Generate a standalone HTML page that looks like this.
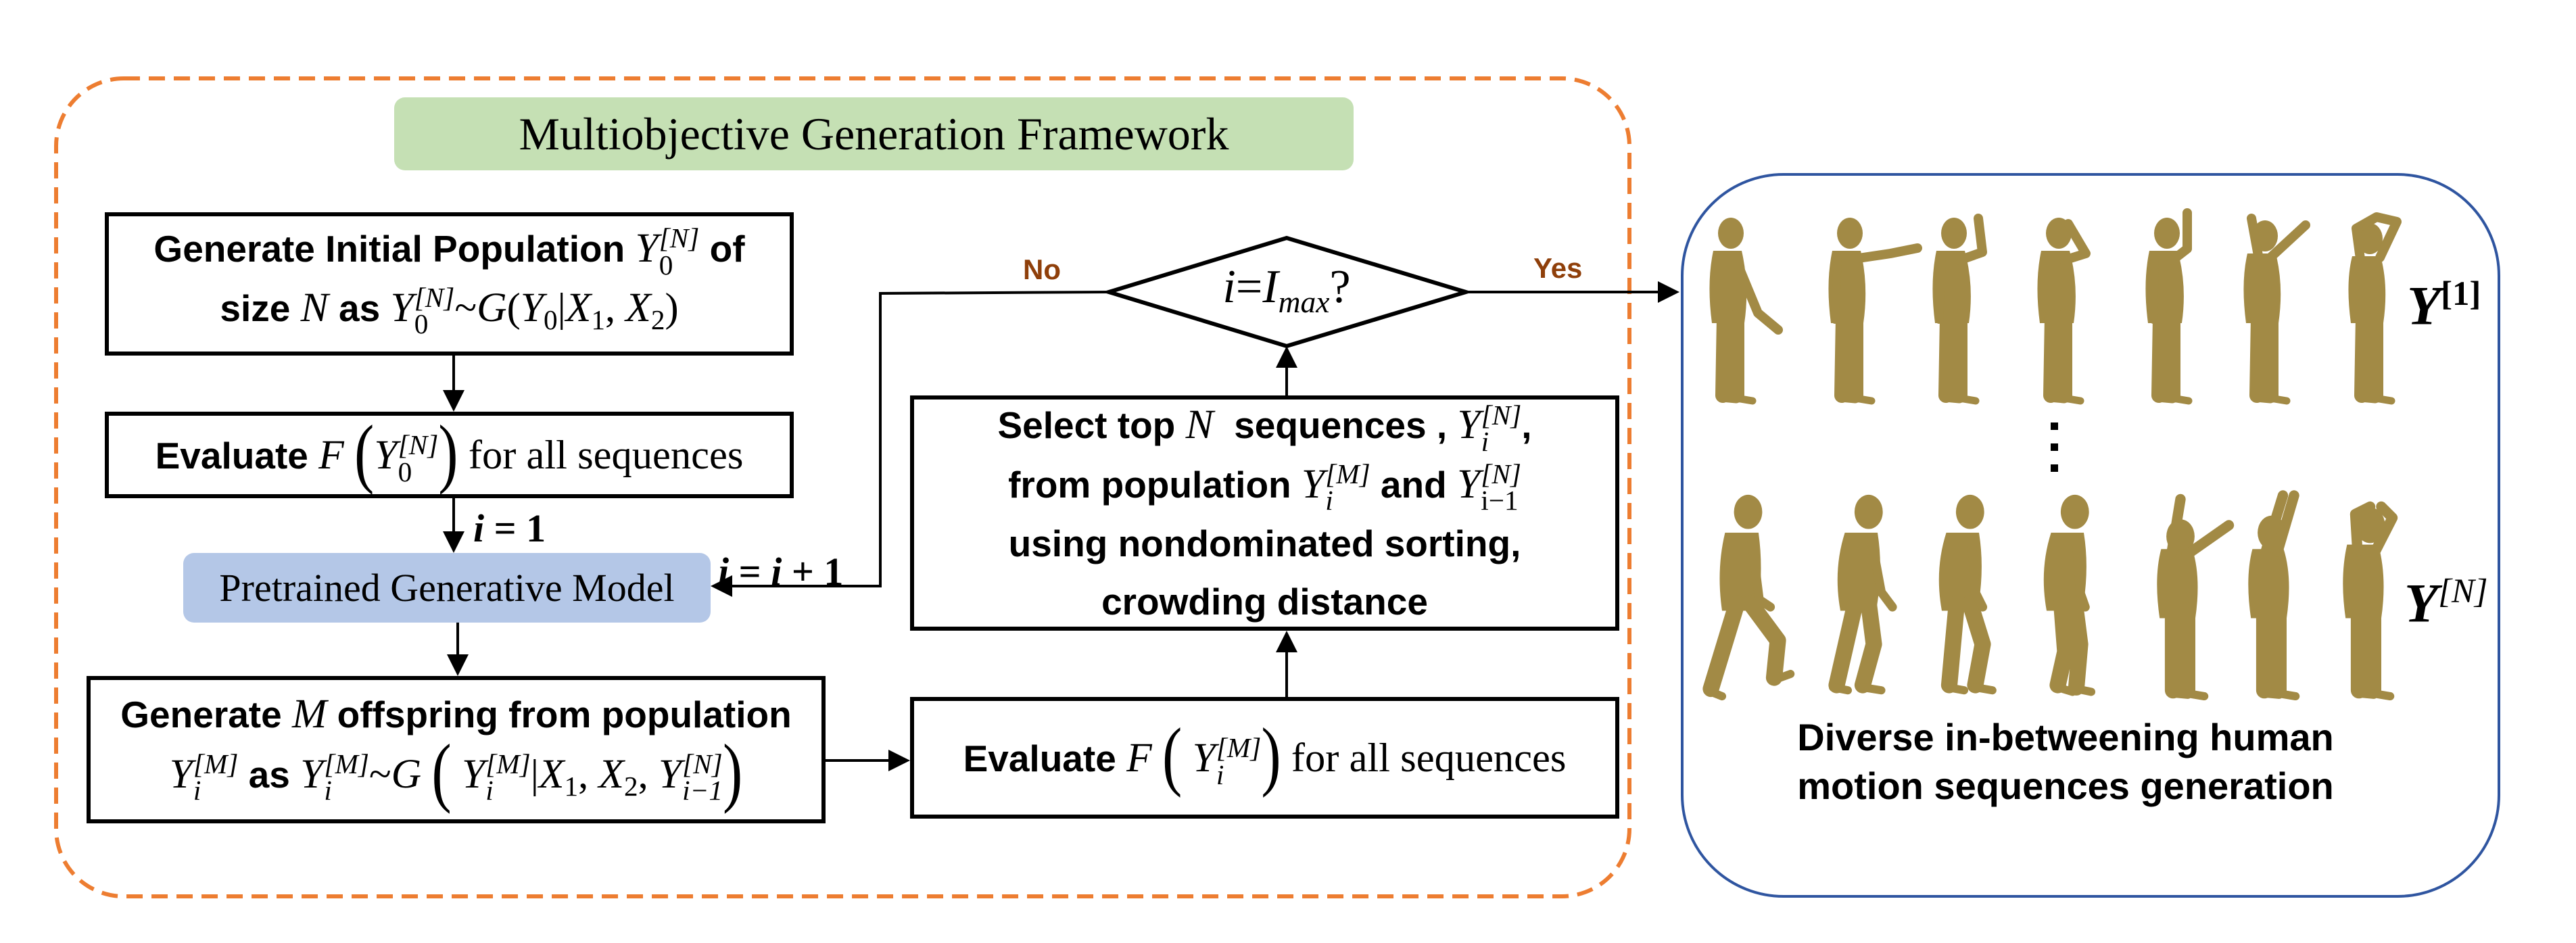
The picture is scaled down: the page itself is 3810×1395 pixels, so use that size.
<!DOCTYPE html>
<html><head><meta charset="utf-8">
<style>
html,body{margin:0;padding:0;background:#fff}
body{width:3810px;height:1395px;position:relative;overflow:hidden;font-family:"Liberation Sans",Arial,sans-serif}
.a{position:absolute}
.box{position:absolute;border:6px solid #000;box-sizing:border-box;display:flex;flex-direction:column;align-items:center;justify-content:center;background:#fff}
.t{font-weight:bold;font-size:55px;color:#000;white-space:nowrap;line-height:86px}
.m{font-family:"Liberation Serif",serif;font-style:italic;font-weight:normal;font-size:1.12em}
.mb{font-family:"Liberation Serif",serif;font-style:italic;font-weight:bold}
.r{font-family:"Liberation Serif",serif;font-weight:normal;font-size:1.1em}
.ss{display:inline-flex;flex-direction:column;vertical-align:middle;font-size:0.75em;line-height:0.95;margin-left:1px;text-align:left;font-family:"Liberation Serif",serif;font-style:italic;font-weight:normal}
.sb{font-size:.75em}
.bp{font-family:"Liberation Serif",serif;font-weight:normal;font-size:1.6em;display:inline-block;transform:scaleY(1.3);vertical-align:-6px}
</style></head><body>
<svg class="a" style="left:0;top:0" width="3810" height="1395">
<defs><marker id="ar" markerWidth="8" markerHeight="8" refX="7" refY="4" orient="auto" markerUnits="strokeWidth"><path d="M0,0 L8,4 L0,8 Z" fill="#000"/></marker></defs>
<rect x="83" y="116" width="2327" height="1210" rx="100" fill="none" stroke="#ed7d31" stroke-width="6" stroke-dasharray="24 13"/>
<rect x="583" y="144" width="1419" height="108" rx="16" fill="#c5e0b4"/>
<rect x="271" y="818" width="780" height="103" rx="16" fill="#b4c7e7"/>
<rect x="2488" y="258" width="1208" height="1068" rx="150" fill="none" stroke="#2f55a0" stroke-width="4"/>
<polygon points="1640,432 1903,352 2168,432 1903,512" fill="#fff" stroke="#000" stroke-width="6"/>
<g stroke="#000" stroke-width="4" fill="none">
<line x1="671" y1="526" x2="671" y2="605" marker-end="url(#ar)"/>
<line x1="671" y1="737" x2="671" y2="814" marker-end="url(#ar)"/>
<line x1="677" y1="921" x2="677" y2="996" marker-end="url(#ar)"/>
<line x1="1221" y1="1125" x2="1342" y2="1125" marker-end="url(#ar)"/>
<line x1="1903" y1="1031" x2="1903" y2="937" marker-end="url(#ar)"/>
<line x1="1903" y1="585" x2="1903" y2="516" marker-end="url(#ar)"/>
<polyline points="1640,432 1302,434 1302,867 1055,867" marker-end="url(#ar)"/>
<line x1="2168" y1="432" x2="2480" y2="432" marker-end="url(#ar)"/>
</g>
<g fill="#a28a45" stroke="#a28a45" stroke-linecap="round" stroke-linejoin="round">
<g transform="translate(2560,323)"><ellipse cx="0" cy="22" rx="19" ry="23" stroke="none"/><path d="M-26,48 Q-36,95 -28,155 L20,155 Q28,100 16,48 Z" stroke="none"/><path d="M-10,145 L-12,262 M9,145 L9,262" stroke-width="22" fill="none"/><path d="M-14,266 L8,268 M8,266 L32,270" stroke-width="11" fill="none"/><path d="M6,58 L40,140 L70,165" stroke-width="14" fill="none"/></g>
<g transform="translate(2736,323)"><ellipse cx="0" cy="22" rx="19" ry="23" stroke="none"/><path d="M-26,48 Q-36,95 -28,155 L20,155 Q28,100 16,48 Z" stroke="none"/><path d="M-10,145 L-12,262 M9,145 L9,262" stroke-width="22" fill="none"/><path d="M-14,266 L8,268 M8,266 L32,270" stroke-width="11" fill="none"/><path d="M6,60 L60,52 L100,44" stroke-width="14" fill="none"/><path d="M-18,60 L-22,150" stroke-width="12" fill="none"/></g>
<g transform="translate(2890,323)"><ellipse cx="0" cy="22" rx="19" ry="23" stroke="none"/><path d="M-26,48 Q-36,95 -28,155 L22,155 Q30,100 16,48 Z" stroke="none"/><path d="M-10,145 L-12,262 M9,145 L9,262" stroke-width="22" fill="none"/><path d="M-14,266 L8,268 M8,266 L32,270" stroke-width="11" fill="none"/><path d="M8,62 L42,50 L36,0" stroke-width="14" fill="none"/><path d="M-18,60 L-22,150" stroke-width="12" fill="none"/></g>
<g transform="translate(3045,323)"><ellipse cx="0" cy="22" rx="19" ry="23" stroke="none"/><path d="M-26,48 Q-36,95 -28,155 L22,155 Q30,100 16,48 Z" stroke="none"/><path d="M-10,145 L-12,262 M9,145 L9,262" stroke-width="22" fill="none"/><path d="M-14,266 L8,268 M8,266 L32,270" stroke-width="11" fill="none"/><path d="M8,62 L40,52 L14,8" stroke-width="14" fill="none"/></g>
<g transform="translate(3205,323)"><ellipse cx="0" cy="22" rx="19" ry="23" stroke="none"/><path d="M-26,48 Q-36,95 -28,155 L22,155 Q30,100 16,48 Z" stroke="none"/><path d="M-10,145 L-12,262 M9,145 L9,262" stroke-width="22" fill="none"/><path d="M-14,266 L8,268 M8,266 L32,270" stroke-width="11" fill="none"/><path d="M8,62 L30,45 L30,-8" stroke-width="14" fill="none"/><path d="M-18,60 L-20,150" stroke-width="12" fill="none"/></g>
<g transform="translate(3350,323)"><ellipse cx="0" cy="26" rx="19" ry="23" stroke="none"/><path d="M-26,52 Q-36,95 -28,155 L20,155 Q28,100 16,52 Z" stroke="none"/><path d="M-10,145 L-12,262 M9,145 L9,262" stroke-width="22" fill="none"/><path d="M-14,266 L8,268 M8,266 L32,270" stroke-width="11" fill="none"/><path d="M-10,55 L-20,0 M8,58 L60,10" stroke-width="14" fill="none"/></g>
<g transform="translate(3505,323)"><ellipse cx="0" cy="30" rx="19" ry="23" stroke="none"/><path d="M-26,56 Q-36,95 -28,155 L20,155 Q28,100 16,56 Z" stroke="none"/><path d="M-10,145 L-12,262 M9,145 L9,262" stroke-width="22" fill="none"/><path d="M-14,266 L8,268 M8,266 L32,270" stroke-width="11" fill="none"/><path d="M-14,60 L-20,15 L10,-2 L40,5 L15,58" stroke-width="14" fill="none"/></g>
<g transform="translate(2580,733) scale(1.1)"><ellipse cx="5" cy="22" rx="19" ry="23" stroke="none"/><path d="M-26,50 Q-38,100 -30,155 L18,155 Q26,100 19,50 Z" stroke="none"/><path d="M-10,145 L-45,260 M8,145 L45,195 L40,245" stroke-width="22" fill="none"/><path d="M-50,262 L-30,270 M40,248 L62,240" stroke-width="11" fill="none"/><path d="M10,60 L20,140 L35,150" stroke-width="12" fill="none"/></g>
<g transform="translate(2755,733) scale(1.1)"><ellipse cx="8" cy="22" rx="19" ry="23" stroke="none"/><path d="M-24,50 Q-40,100 -30,155 L18,155 Q28,100 20,50 Z" stroke="none"/><path d="M-10,145 L-35,255 M8,145 L15,200 L0,255" stroke-width="22" fill="none"/><path d="M-40,258 L-20,262 M0,258 L25,262" stroke-width="11" fill="none"/><path d="M12,60 L25,130 L40,150" stroke-width="12" fill="none"/></g>
<g transform="translate(2905,733) scale(1.1)"><ellipse cx="8" cy="22" rx="19" ry="23" stroke="none"/><path d="M-24,50 Q-40,100 -30,155 L18,155 Q28,100 20,50 Z" stroke="none"/><path d="M-10,145 L-20,255 M8,145 L25,200 L15,255" stroke-width="22" fill="none"/><path d="M-22,258 L0,262 M15,258 L38,262" stroke-width="11" fill="none"/><path d="M10,60 L15,130 L25,150" stroke-width="12" fill="none"/></g>
<g transform="translate(3060,733) scale(1.1)"><ellipse cx="8" cy="22" rx="19" ry="23" stroke="none"/><path d="M-24,50 Q-40,100 -30,155 L18,155 Q28,100 20,50 Z" stroke="none"/><path d="M-10,145 L-5,210 L-15,255 M8,145 L15,200 L10,258" stroke-width="22" fill="none"/><path d="M-15,258 L5,264 M10,260 L30,264" stroke-width="11" fill="none"/><path d="M10,60 L15,130 L22,150" stroke-width="12" fill="none"/></g>
<g transform="translate(3225,733) scale(1.1)"><ellipse cx="0" cy="55" rx="19" ry="23" stroke="none"/><path d="M-26,72 Q-36,110 -28,165 L20,165 Q28,110 16,72 Z" stroke="none"/><path d="M-10,155 L-10,262 M9,155 L9,262" stroke-width="22" fill="none"/><path d="M-12,266 L10,268 M8,266 L32,270" stroke-width="11" fill="none"/><path d="M-12,78 L0,5 M8,80 L65,40" stroke-width="14" fill="none"/></g>
<g transform="translate(3360,733) scale(1.1)"><ellipse cx="0" cy="50" rx="19" ry="23" stroke="none"/><path d="M-26,72 Q-36,110 -28,165 L20,165 Q28,110 16,72 Z" stroke="none"/><path d="M-10,155 L-10,262 M9,155 L9,262" stroke-width="22" fill="none"/><path d="M-12,266 L10,268 M8,266 L32,270" stroke-width="11" fill="none"/><path d="M-8,75 L15,0 M8,75 L30,0" stroke-width="14" fill="none"/></g>
<g transform="translate(3500,733) scale(1.1)"><ellipse cx="5" cy="40" rx="20" ry="24" stroke="none"/><path d="M-26,66 Q-36,110 -28,165 L20,165 Q28,110 16,66 Z" stroke="none"/><path d="M-10,155 L-10,262 M9,155 L9,262" stroke-width="22" fill="none"/><path d="M-12,266 L10,268 M8,266 L32,270" stroke-width="11" fill="none"/><path d="M-12,75 L-15,25 L5,15 M12,75 L35,30 L20,15" stroke-width="14" fill="none"/></g>
</g>
<rect x="3033" y="625" width="11" height="11" fill="#000"/>
<rect x="3033" y="656" width="11" height="11" fill="#000"/>
<rect x="3033" y="687" width="11" height="11" fill="#000"/>
</svg>

<div class="a r" style="left:583px;top:144px;width:1419px;height:108px;display:flex;align-items:center;justify-content:center;font-size:68px;color:#000">Multiobjective Generation Framework</div>

<div class="box" style="left:155px;top:314px;width:1019px;height:212px">
<div class="t">Generate Initial Population <span class="m">Y</span><span class="ss"><span>[N]</span><span style="font-style:normal">0</span></span> of</div>
<div class="t">size <span class="m">N</span> as <span class="m">Y</span><span class="ss"><span>[N]</span><span style="font-style:normal">0</span></span><span class="r">~</span><span class="m">G</span><span class="r">(</span><span class="m">Y</span><sub class="r sb">0</sub><span class="r">|</span><span class="m">X</span><sub class="r sb">1</sub><span class="r">, </span><span class="m">X</span><sub class="r sb">2</sub><span class="r">)</span></div>
</div>

<div class="box" style="left:155px;top:609px;width:1019px;height:128px">
<div class="t">Evaluate <span class="m">F</span> <span class="bp">(</span><span class="m">Y</span><span class="ss"><span>[N]</span><span style="font-style:normal">0</span></span><span class="bp">)</span> <span class="r">for all sequences</span></div>
</div>

<div class="a r" style="left:271px;top:818px;width:780px;height:103px;display:flex;align-items:center;justify-content:center;font-size:58px;color:#000">Pretrained Generative Model</div>

<div class="a r" style="left:700px;top:748px;font-size:58px;font-weight:bold"><i>i</i> = 1</div>
<div class="a r" style="left:1062px;top:812px;font-size:58px;font-weight:bold"><i>i</i> = <i>i</i> + 1</div>

<div class="box" style="left:128px;top:1000px;width:1093px;height:218px">
<div class="t">Generate <span class="m">M</span> offspring from population</div>
<div class="t"><span class="m">Y</span><span class="ss"><span>[M]</span><span>i</span></span> as <span class="m">Y</span><span class="ss"><span>[M]</span><span>i</span></span><span class="r">~</span><span class="m">G</span> <span class="bp">(</span> <span class="m">Y</span><span class="ss"><span>[M]</span><span>i</span></span><span class="r">|</span><span class="m">X</span><sub class="r sb">1</sub><span class="r">, </span><span class="m">X</span><sub class="r sb">2</sub><span class="r">, </span><span class="m">Y</span><span class="ss"><span>[N]</span><span>i−1</span></span><span class="bp">)</span></div>
</div>

<div class="box" style="left:1346px;top:1031px;width:1049px;height:180px">
<div class="t">Evaluate <span class="m">F</span> <span class="bp">(</span> <span class="m">Y</span><span class="ss"><span>[M]</span><span>i</span></span><span class="bp">)</span> <span class="r">for all sequences</span></div>
</div>

<div class="box" style="left:1346px;top:585px;width:1049px;height:348px">
<div class="t">Select top <span class="m">N</span> &nbsp;sequences , <span class="m">Y</span><span class="ss"><span>[N]</span><span>i</span></span>,</div>
<div class="t">from population <span class="m">Y</span><span class="ss"><span>[M]</span><span>i</span></span> and <span class="m">Y</span><span class="ss"><span>[N]</span><span style="font-style:normal">i−1</span></span></div>
<div class="t">using nondominated sorting,</div>
<div class="t">crowding distance</div>
</div>

<div class="a r" style="left:1700px;top:385px;width:406px;text-align:center;font-size:70px"><i>i</i>=<i>I</i><sub style="font-size:.65em"><i>max</i></sub>?</div>

<div class="a" style="left:1513px;top:375px;font-size:42px;font-weight:bold;color:#8f3f0a">No</div>
<div class="a" style="left:2268px;top:373px;font-size:42px;font-weight:bold;color:#8f3f0a">Yes</div>

<div class="a mb" style="left:3560px;top:405px;font-size:82px">Y<sup class="r" style="font-size:.62em;font-style:normal;font-weight:bold">[1]</sup></div>
<div class="a mb" style="left:3556px;top:845px;font-size:82px">Y<sup style="font-size:.62em;font-weight:normal">[<i>N</i>]</sup></div>

<div class="a" style="left:2530px;top:1055px;width:1050px;text-align:center;font-size:56px;font-weight:bold;line-height:72px">Diverse in-betweening human<br>motion sequences generation</div>
</body></html>
